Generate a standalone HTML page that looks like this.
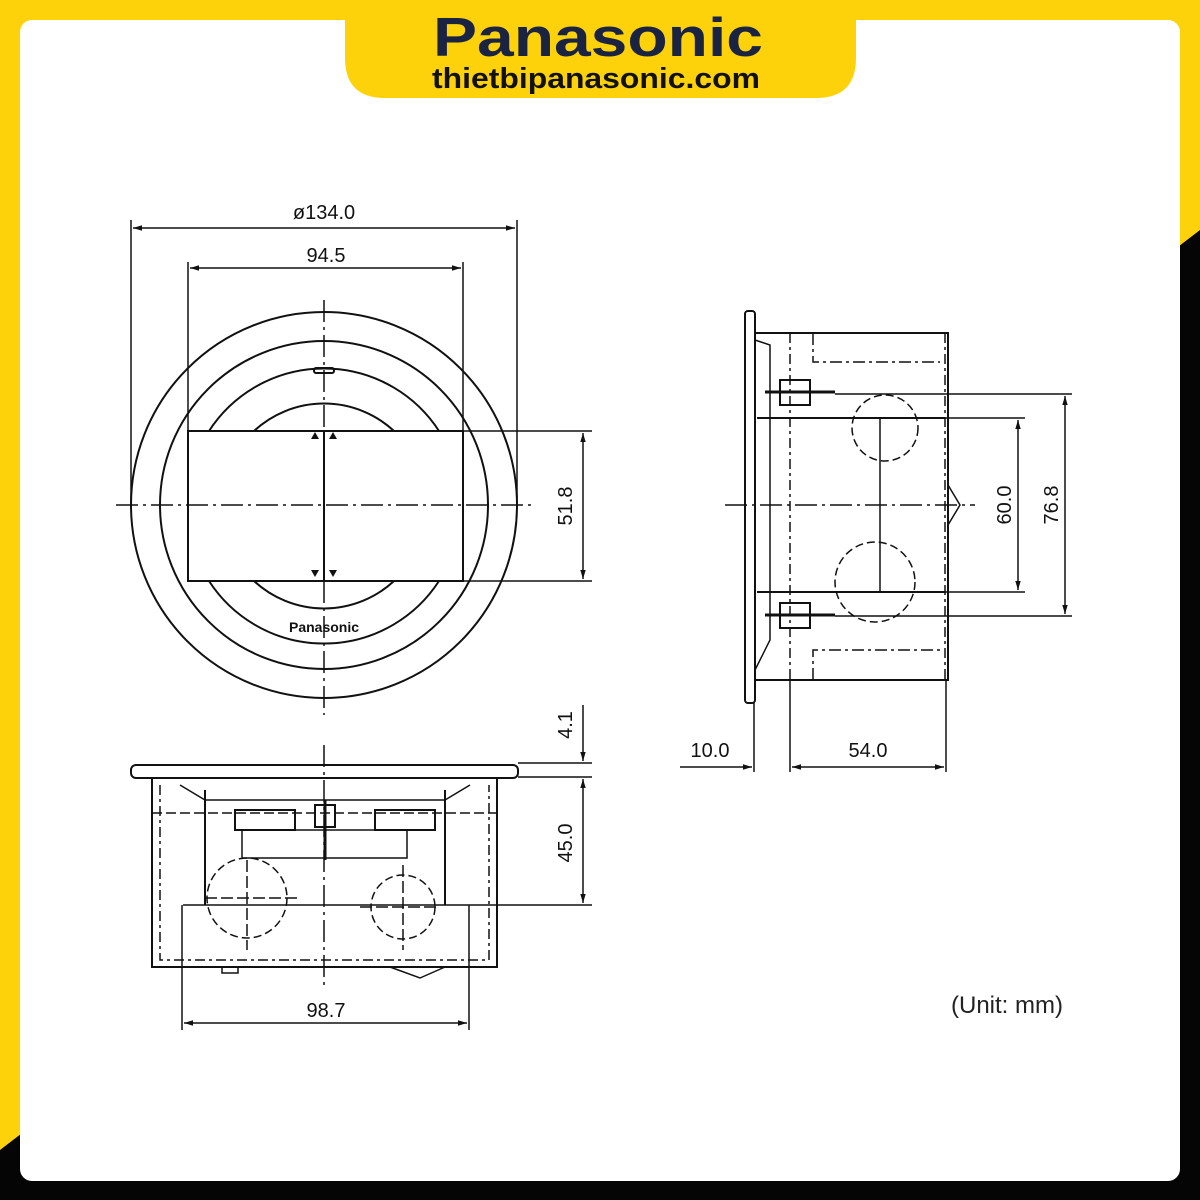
<!DOCTYPE html>
<html><head><meta charset="utf-8"><style>
html,body{margin:0;padding:0;width:1200px;height:1200px;overflow:hidden;background:#fff}
svg{display:block}
text{font-family:"Liberation Sans",Arial,sans-serif;fill:#111}
</style></head><body>
<svg width="1200" height="1200" viewBox="0 0 1200 1200" xmlns="http://www.w3.org/2000/svg">
<defs>
<marker id="a" viewBox="0 0 10 10" refX="10" refY="5" markerWidth="8" markerHeight="6" orient="auto-start-reverse"><path d="M0,2 L10,5 L0,8z" fill="#111"/></marker>
</defs>
<rect width="1200" height="1200" fill="#fdd20a"/>
<polygon points="1200,230 1200,1200 0,1200 0,1150" fill="#050505"/>
<rect x="20" y="20" width="1160" height="1161" rx="12" fill="#fff"/>
<path d="M345,0 H856 V58 Q856,98 816,98 H385 Q345,98 345,58 Z" fill="#fdd20a"/>
<text x="598" y="56" text-anchor="middle" font-size="55" font-weight="bold" style="fill:#1b2342" textLength="330" lengthAdjust="spacingAndGlyphs">Panasonic</text>
<text x="596" y="88" text-anchor="middle" font-size="29" font-weight="bold" style="fill:#111" textLength="328" lengthAdjust="spacingAndGlyphs">thietbipanasonic.com</text>

<g stroke="#111" stroke-width="2" fill="none">
<!-- TOP VIEW -->
<circle cx="324" cy="505" r="193"/>
<circle cx="324" cy="505" r="164"/>
<path d="M209,431 A137,137 0 0 1 439,431"/>
<path d="M209,581 A137,137 0 0 0 439,581"/>
<path d="M254,431 A103,103 0 0 1 394,431"/>
<path d="M254,581 A103,103 0 0 0 394,581"/>
<rect x="188" y="431" width="275" height="150" fill="#fff"/>
<line x1="324" y1="431" x2="324" y2="581"/>
<rect x="314" y="368" width="20" height="5" rx="2"/>
<line x1="116" y1="505" x2="535" y2="505" stroke-dasharray="22,5,3,5" stroke-width="1.5"/>
<line x1="324" y1="300" x2="324" y2="431" stroke-dasharray="22,5,3,5" stroke-width="1.5"/>
<line x1="324" y1="581" x2="324" y2="715" stroke-dasharray="22,5,3,5" stroke-width="1.5"/>
<!-- dims -->
<line x1="131" y1="220" x2="131" y2="505" stroke-width="1.5"/>
<line x1="517" y1="220" x2="517" y2="505" stroke-width="1.5"/>
<line x1="133" y1="228" x2="515" y2="228" stroke-width="1.5" marker-start="url(#a)" marker-end="url(#a)"/>
<line x1="188" y1="262" x2="188" y2="431" stroke-width="1.5"/>
<line x1="463" y1="262" x2="463" y2="431" stroke-width="1.5"/>
<line x1="190" y1="268" x2="461" y2="268" stroke-width="1.5" marker-start="url(#a)" marker-end="url(#a)"/>
<line x1="463" y1="431" x2="592" y2="431" stroke-width="1.5"/>
<line x1="463" y1="581" x2="592" y2="581" stroke-width="1.5"/>
<line x1="583" y1="433" x2="583" y2="579" stroke-width="1.5" marker-start="url(#a)" marker-end="url(#a)"/>

<!-- BOTTOM (FRONT) VIEW -->
<rect x="131" y="765" width="387" height="13" rx="5"/>
<path d="M152,778 V967 H497 V778"/>
<path d="M160,785 V960 H489 V785" stroke-width="1.5" stroke-dasharray="10,4,3,4"/>
<path d="M180,785 L205,800 H445 L470,785" stroke-width="1.5"/>
<line x1="205" y1="790" x2="205" y2="905"/>
<line x1="445" y1="790" x2="445" y2="905"/>
<line x1="152" y1="813" x2="497" y2="813" stroke-width="1.5" stroke-dasharray="10,4"/>
<rect x="235" y="810" width="60" height="20"/>
<rect x="375" y="810" width="60" height="20"/>
<rect x="242" y="830" width="165" height="28" stroke-width="1.5"/>
<rect x="315" y="805" width="20" height="22"/>
<line x1="325" y1="800" x2="325" y2="860" stroke-width="3"/>
<line x1="183" y1="905" x2="469" y2="905" stroke-width="1.5"/>
<circle cx="247" cy="898" r="40" stroke-dasharray="8,4" stroke-width="1.5"/>
<line x1="205" y1="898" x2="300" y2="898" stroke-dasharray="12,4" stroke-width="1.5"/>
<line x1="247" y1="860" x2="247" y2="950" stroke-dasharray="12,4" stroke-width="1.5"/>
<circle cx="403" cy="907" r="32" stroke-dasharray="8,4" stroke-width="1.5"/>
<line x1="360" y1="907" x2="440" y2="907" stroke-dasharray="12,4" stroke-width="1.5"/>
<line x1="403" y1="865" x2="403" y2="950" stroke-dasharray="12,4" stroke-width="1.5"/>
<path d="M390,967 L420,978 L445,967" stroke-width="1.5"/>
<rect x="222" y="967" width="16" height="6" stroke-width="1.5"/>
<line x1="324" y1="745" x2="324" y2="985" stroke-dasharray="22,5,3,5" stroke-width="1.5"/>
<!-- dims -->
<line x1="518" y1="763" x2="592" y2="763" stroke-width="1.5"/>
<line x1="518" y1="777" x2="592" y2="777" stroke-width="1.5"/>
<line x1="583" y1="705" x2="583" y2="761" stroke-width="1.5" marker-end="url(#a)"/>
<line x1="583" y1="779" x2="583" y2="903" stroke-width="1.5" marker-start="url(#a)" marker-end="url(#a)"/>
<line x1="469" y1="905" x2="592" y2="905" stroke-width="1.5"/>
<line x1="182" y1="905" x2="182" y2="1030" stroke-width="1.5"/>
<line x1="469" y1="905" x2="469" y2="1030" stroke-width="1.5"/>
<line x1="184" y1="1023" x2="467" y2="1023" stroke-width="1.5" marker-start="url(#a)" marker-end="url(#a)"/>

<!-- SIDE VIEW -->
<rect x="745" y="311" width="10" height="392" rx="3"/>
<path d="M755,333 H948 V680 H755"/>
<line x1="790" y1="333" x2="790" y2="680" stroke-dasharray="10,4,3,4" stroke-width="1.5"/>
<line x1="945" y1="333" x2="945" y2="680" stroke-dasharray="10,4,3,4" stroke-width="1.5"/>
<path d="M813,333 V362 H940" stroke-dasharray="12,4,3,4" stroke-width="1.5"/>
<path d="M813,680 V650 H940" stroke-dasharray="12,4,3,4" stroke-width="1.5"/>
<path d="M755,340 L770,345 V640 L755,670" stroke-width="1.5"/>
<rect x="780" y="380" width="30" height="25"/>
<rect x="780" y="603" width="30" height="25"/>
<line x1="765" y1="392" x2="835" y2="392" stroke-width="3"/>
<line x1="765" y1="615" x2="835" y2="615" stroke-width="3"/>
<line x1="757" y1="418" x2="945" y2="418"/>
<line x1="757" y1="592" x2="945" y2="592"/>
<path d="M880,418 V592" stroke-width="1.5"/>
<circle cx="885" cy="428" r="33" stroke-dasharray="8,4" stroke-width="1.5"/>
<circle cx="875" cy="582" r="40" stroke-dasharray="8,4" stroke-width="1.5"/>
<path d="M948,485 L960,505 L948,525" stroke-width="1.5"/>
<line x1="725" y1="505" x2="975" y2="505" stroke-dasharray="22,5,3,5" stroke-width="1.5"/>
<!-- dims -->
<line x1="835" y1="394" x2="1072" y2="394" stroke-width="1.5"/>
<line x1="835" y1="616" x2="1072" y2="616" stroke-width="1.5"/>
<line x1="1065" y1="396" x2="1065" y2="614" stroke-width="1.5" marker-start="url(#a)" marker-end="url(#a)"/>
<line x1="945" y1="418" x2="1025" y2="418" stroke-width="1.5"/>
<line x1="945" y1="592" x2="1025" y2="592" stroke-width="1.5"/>
<line x1="1018" y1="420" x2="1018" y2="590" stroke-width="1.5" marker-start="url(#a)" marker-end="url(#a)"/>
<line x1="754" y1="703" x2="754" y2="772" stroke-width="1.5"/>
<line x1="790" y1="680" x2="790" y2="772" stroke-width="1.5"/>
<line x1="946" y1="680" x2="946" y2="772" stroke-width="1.5"/>
<line x1="680" y1="767" x2="752" y2="767" stroke-width="1.5" marker-end="url(#a)"/>
<line x1="792" y1="767" x2="944" y2="767" stroke-width="1.5" marker-start="url(#a)" marker-end="url(#a)"/>
</g>
<g font-size="20" stroke="none">
<path d="M311,439 l4,-7 l4,7z M329,439 l4,-7 l4,7z M311,570 l4,7 l4,-7z M329,570 l4,7 l4,-7z" fill="#111"/>
<text x="324" y="632" text-anchor="middle" font-size="14" font-weight="bold">Panasonic</text>
<text x="324" y="219" text-anchor="middle">ø134.0</text>
<text x="326" y="262" text-anchor="middle">94.5</text>
<text transform="translate(572,506) rotate(-90)" text-anchor="middle">51.8</text>
<text transform="translate(572,725) rotate(-90)" text-anchor="middle">4.1</text>
<text transform="translate(572,843) rotate(-90)" text-anchor="middle">45.0</text>
<text x="326" y="1017" text-anchor="middle">98.7</text>
<text transform="translate(1011,505) rotate(-90)" text-anchor="middle">60.0</text>
<text transform="translate(1058,505) rotate(-90)" text-anchor="middle">76.8</text>
<text x="710" y="757" text-anchor="middle">10.0</text>
<text x="868" y="757" text-anchor="middle">54.0</text>
<text x="1007" y="1013" text-anchor="middle" font-size="24" style="fill:#222">(Unit: mm)</text>
</g>
</svg>
</body></html>
